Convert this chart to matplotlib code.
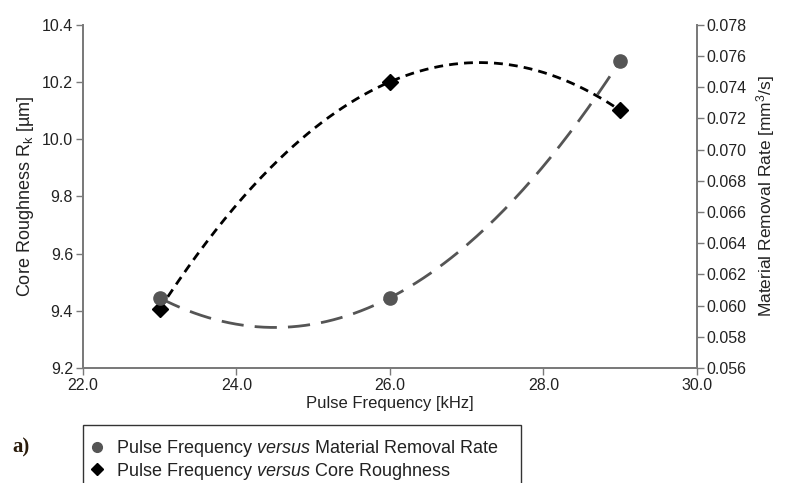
import matplotlib
matplotlib.use("Agg")
import matplotlib.pyplot as plt
from matplotlib.lines import Line2D
from matplotlib.patches import Rectangle
import numpy as np

plt.rcParams['font.family'] = ['Liberation Sans', 'DejaVu Sans']
plt.rcParams['mathtext.fontset'] = 'custom'
plt.rcParams['mathtext.rm'] = 'Liberation Sans'
plt.rcParams['mathtext.it'] = 'Liberation Sans:italic'

# data
FREQ = [23.0, 26.0, 29.0]
CORE_ROUGHNESS = [9.405, 10.20, 10.10]
REMOVAL_RATE = [0.0605, 0.0605, 0.0757]

X_TICKS = [22.0, 24.0, 26.0, 28.0, 30.0]
LEFT_TICKS = [9.2, 9.4, 9.6, 9.8, 10.0, 10.2, 10.4]
RIGHT_TICKS = [0.056, 0.058, 0.060, 0.062, 0.064, 0.066, 0.068, 0.070, 0.072, 0.074, 0.076, 0.078]

SPINE = '#7a7a7a'
GREY = '#555555'
TEXT = '#222222'


def trend(x, y):
    # quadratic trendline through the three points
    coef = np.polyfit(x, y, 2)
    xs = np.linspace(min(x), max(x), 200)
    return xs, np.polyval(coef, xs)


fig = plt.figure(figsize=(7.85, 4.83), dpi=100)
ax = fig.add_axes([0.1054, 0.238, 0.7826, 0.711])
ax2 = ax.twinx()

# Core roughness (left axis)
xs, ys = trend(FREQ, CORE_ROUGHNESS)
ax.plot(xs, ys, color='black', lw=2, dashes=(3.2, 2.2), zorder=2)
ax.plot(FREQ, CORE_ROUGHNESS, ls='none', marker='D', ms=8.5, color='black', zorder=3)

# Material removal rate (right axis)
xs, ys = trend(FREQ, REMOVAL_RATE)
ax2.plot(xs, ys, color=GREY, lw=2, dashes=(8, 4), zorder=2)
ax2.plot(FREQ, REMOVAL_RATE, ls='none', marker='o', ms=9.5, color=GREY, zorder=3)

ax.set_xlim(22, 30)
ax.set_ylim(9.2, 10.4)
ax2.set_ylim(0.056, 0.078)
ax.set_xticks(X_TICKS)
ax.set_xticklabels([f"{v:.1f}" for v in X_TICKS])
ax.set_yticks(LEFT_TICKS)
ax.set_yticklabels([f"{v:.1f}" for v in LEFT_TICKS])
ax2.set_yticks(RIGHT_TICKS)
ax2.set_yticklabels([f"{v:.3f}" for v in RIGHT_TICKS])

for a in (ax, ax2):
    a.spines['top'].set_visible(False)
    for s in ('left', 'right', 'bottom'):
        a.spines[s].set_color(SPINE)
        a.spines[s].set_linewidth(1.3)
    a.tick_params(colors=TEXT, labelsize=11.5, length=5, width=1, pad=2)
    a.tick_params(axis='both', color=SPINE)

ax.set_xlabel("Pulse Frequency [kHz]", fontsize=12, color=TEXT, labelpad=2)
ax.set_ylabel("Core Roughness R$_\\mathrm{k}$ [µm]", fontsize=13, color=TEXT, labelpad=4)
ax2.set_ylabel("Material Removal Rate [mm$^3$/s]", fontsize=12.5, color=TEXT, labelpad=5)

# legend box, cut by the bottom edge like the reference
fig.patches.append(Rectangle((83 / 785, -0.05), (521 - 83) / 785, 0.05 + (483 - 425) / 483,
                             transform=fig.transFigure, fill=False, edgecolor='#333333',
                             lw=1, clip_on=False))
handles = [
    Line2D([], [], ls='none', marker='o', ms=7, color=GREY),
    Line2D([], [], ls='none', marker='D', ms=6, color='black'),
]
labels = [
    "Pulse Frequency $\\mathit{versus}$ Material Removal Rate",
    "Pulse Frequency $\\mathit{versus}$ Core Roughness",
]
fig.legend(handles, labels, loc='upper left', bbox_to_anchor=(89 / 785, 1 - 438 / 483),
           frameon=False, fontsize=13, handlelength=0.9, handletextpad=0.6,
           labelspacing=0.1, borderaxespad=0, borderpad=0, labelcolor=TEXT)

fig.text(12 / 785, 1 - 447 / 483, "a)", fontsize=15, fontweight='bold',
         family='Liberation Serif', color='#2a1c0c', va='center', ha='left')

fig.savefig("out.png", dpi=100)
